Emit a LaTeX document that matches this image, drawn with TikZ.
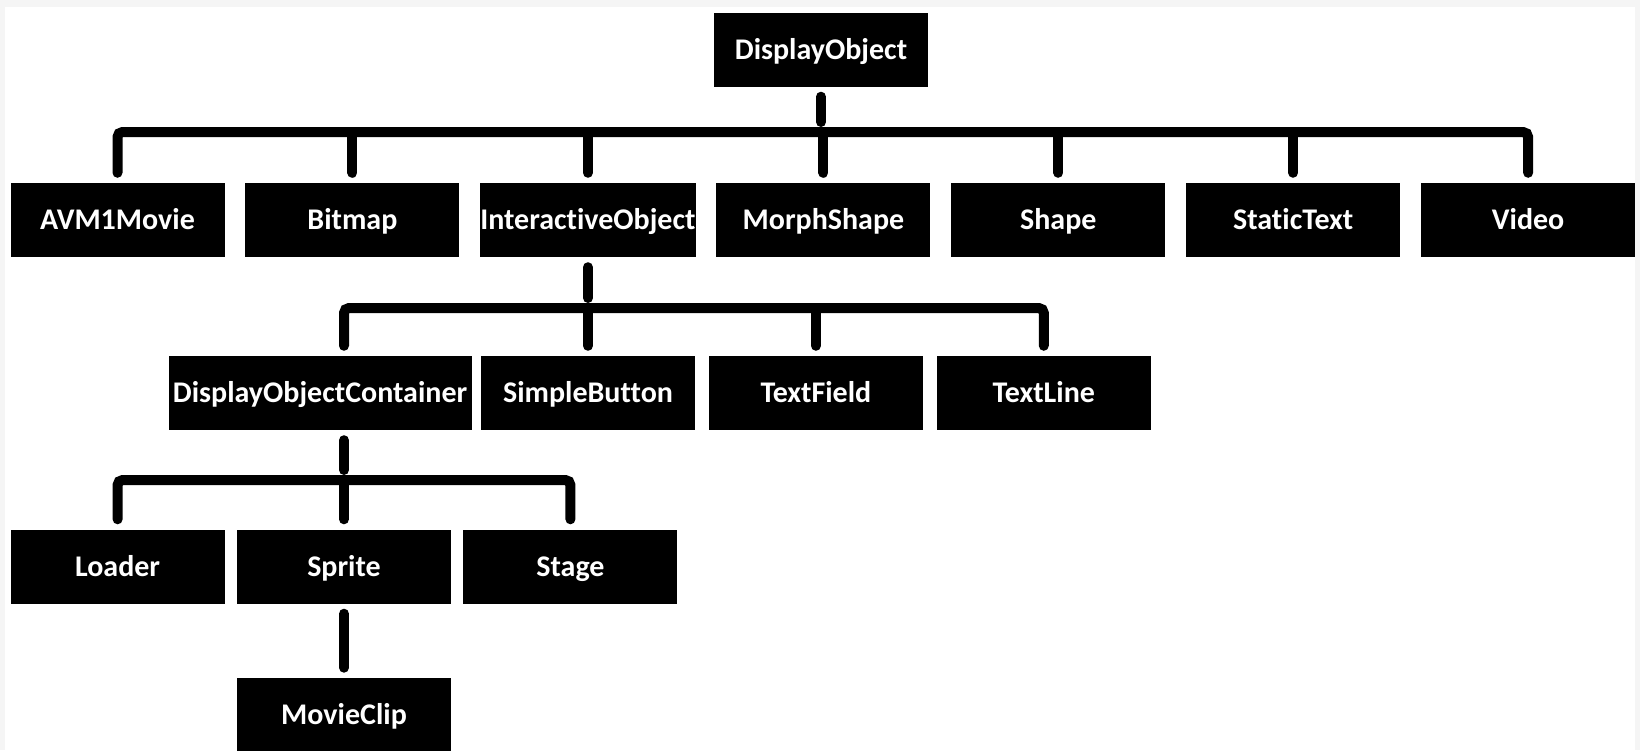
\documentclass[tikz,border=0pt]{standalone}
\usepackage{fontspec}
\setmainfont[Ligatures=NoCommon]{Carlito}
\usetikzlibrary{positioning}
\tikzset{%
	classbox/.style = {fill=black, text=white, font=\bfseries\fontsize{30}{34}\selectfont, text height=19pt, text depth=0pt, minimum width=214pt, minimum height=74pt, inner sep=0pt},
	link/.style     = {line width=10pt, line cap=round, rounded corners=5pt},
	gap/.style      = {shorten <=10pt, shorten >=10pt},
}
\begin{document}
\begin{tikzpicture}[x=1pt,y=-1pt]
		\fill[gray!8] (0,0) rectangle (1640,750);  % page edge
		\fill[white] (5,7) rectangle (1635,750);
		\useasboundingbox (0,0) rectangle (1640,750);
		% root
		\node[classbox] (dispobj) at (821,49.5) {DisplayObject};
		% first level
		\node[classbox] (avm) at (117.5,220) {AVM1Movie};
		\node[classbox, right=20.5pt of avm] (bitmap) {Bitmap};
		\node[classbox, right=20.5pt of bitmap] (interobj) {InteractiveObject};
		\node[classbox, right=20.5pt of interobj] (morph) {MorphShape};
		\node[classbox, right=20.5pt of morph] (shape) {Shape};
		\node[classbox, right=20.5pt of shape] (statictext) {StaticText};
		\node[classbox, right=20.5pt of statictext] (video) {Video};
		% second level
		\node[classbox] (simplebtn) at (588,393) {SimpleButton};
		\node[classbox, minimum width=303pt, left=9pt of simplebtn] (container) {DisplayObjectContainer};
		\node[classbox, right=13.5pt of simplebtn] (textfield) {TextField};
		\node[classbox, right=13.5pt of textfield] (textline) {TextLine};
		% third level
		\node[classbox] (sprite) at (344,566.5) {Sprite};
		\node[classbox, left=12pt of sprite] (loader) {Loader};
		\node[classbox, right=12pt of sprite] (stage) {Stage};
		\node[classbox, below=74pt of sprite] (movieclip) {MovieClip};
		% connectors
		\coordinate (bar1) at (dispobj.south |- 0,132);
		\coordinate (bar2) at (interobj.south |- 0,308);
		\coordinate (bar3) at (sprite.north |- 0,480);
		\draw[link, gap] (dispobj.south) -- (bar1);
		\draw[link, gap] (avm.north) |- (bar1) -| (video.north);
		\foreach \c in {bitmap,interobj,morph,shape,statictext}
			\draw[link, shorten >=10pt] (\c.north |- bar1) -- (\c.north);
		\draw[link, gap] (interobj.south) -- (bar2);
		\draw[link, gap] (sprite.north |- container.north) |- (bar2) -| (textline.north);
		\foreach \c in {simplebtn,textfield}
			\draw[link, shorten >=10pt] (\c.north |- bar2) -- (\c.north);
		\draw[link, gap] (sprite.north |- container.south) -- (bar3);
		\draw[link, gap] (loader.north) |- (bar3) -| (stage.north);
		\draw[link, shorten >=10pt] (bar3) -- (sprite.north);
		\draw[link, gap] (sprite.south) -- (movieclip.north);
\end{tikzpicture}
\end{document}
